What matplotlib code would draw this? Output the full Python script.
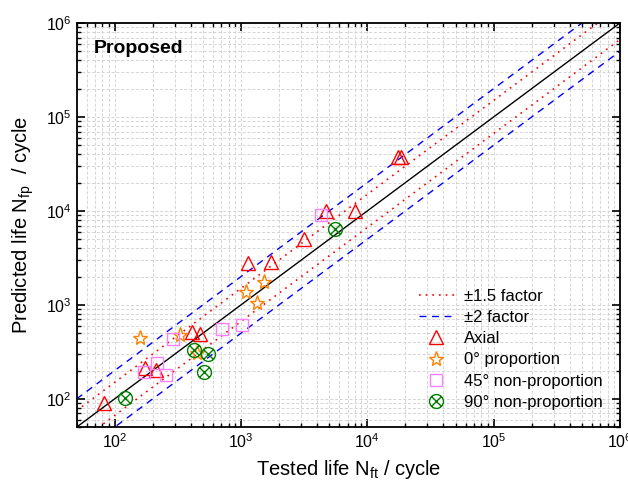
import numpy as np
import matplotlib
matplotlib.use('Agg')
import matplotlib.pyplot as plt
from matplotlib.path import Path
from matplotlib.ticker import LogLocator, NullFormatter

plt.rcParams['font.family'] = ['Liberation Sans', 'DejaVu Sans']
plt.rcParams['mathtext.fontset'] = 'custom'
plt.rcParams['mathtext.rm'] = 'Liberation Sans'
plt.rcParams['mathtext.it'] = 'Liberation Sans:italic'
plt.rcParams['mathtext.default'] = 'regular'

# tested life / predicted life (cycles)
axial_nt = [82, 175, 213, 410, 470, 1143, 1722, 3160, 4700, 8030, 17400, 18500]
axial_np = [90, 211, 203, 512, 492, 2800, 2870, 4980, 10000, 10000, 37200, 37800]

prop0_nt = [160, 332, 450, 1089, 1346, 1524]
prop0_np = [441, 480, 305, 1360, 1046, 1743]

np45_nt = [170, 217, 255, 289, 703, 1024, 4340]
np45_np = [195, 239, 179, 435, 556, 614, 9060]

np90_nt = [120, 424, 550, 508, 5570]
np90_np = [103, 332, 298, 191, 6370]

lims = [50, 1e6]

# circle with an x inside
circ = Path.unit_circle()
d = 0.707
xverts = [(-d, -d), (d, d), (-d, d), (d, -d)]
xcodes = [Path.MOVETO, Path.LINETO, Path.MOVETO, Path.LINETO]
circx = Path(np.concatenate([circ.vertices, xverts]),
             np.concatenate([circ.codes, xcodes]))

fig = plt.figure(figsize=(6.28, 4.91), dpi=100)
ax = fig.add_axes([0.122, 0.130, 0.865, 0.823])

line = np.array(lims)
ax.plot(line, line, color='k', lw=1.0, zorder=2)
ax.plot(line, line * 1.5, color='r', ls=(0, (1, 3)), lw=1.2, label=u'\u00b11.5 factor', zorder=2)
ax.plot(line, line / 1.5, color='r', ls=(0, (1, 3)), lw=1.2, zorder=2)
ax.plot(line, line * 2, color='b', ls=(0, (5, 4)), lw=1.0, label=u'\u00b12 factor', zorder=2)
ax.plot(line, line / 2, color='b', ls=(0, (5, 4)), lw=1.0, zorder=2)

ax.plot(axial_nt, axial_np, ls='none', marker='^', ms=10, mfc='none', mec='#FF0000',
        mew=1.0, label='Axial', zorder=3)
ax.plot(prop0_nt, prop0_np, ls='none', marker='*', ms=11, mfc='none', mec='#FF8000',
        mew=1.0, label=u'0\u00b0 proportion', zorder=3)
ax.plot(np45_nt, np45_np, ls='none', marker='s', ms=9, mfc='none', mec='#FF80FF',
        mew=1.0, label=u'45\u00b0 non-proportion', zorder=3)
ax.plot(np90_nt, np90_np, ls='none', marker=circx, ms=10, mfc='none', mec='#008000',
        mew=1.0, label=u'90\u00b0 non-proportion', zorder=3)

ax.set_xscale('log')
ax.set_yscale('log')
ax.set_xlim(lims)
ax.set_ylim(lims)
for a in (ax.xaxis, ax.yaxis):
    a.set_major_locator(LogLocator(base=10, numticks=10))
    a.set_minor_locator(LogLocator(base=10, subs=np.arange(2, 10), numticks=10))
    a.set_minor_formatter(NullFormatter())

ax.tick_params(which='both', direction='in', top=True, right=True, labelsize=11.5)
ax.tick_params(which='major', length=6, width=1.2)
ax.tick_params(which='minor', length=3, width=1.0)
for s in ax.spines.values():
    s.set_linewidth(1.3)

ax.grid(which='both', color='#d4d4d4', ls=(0, (3, 2)), lw=0.7)
ax.set_axisbelow(True)

ax.set_xlabel(r'Tested life N$_{\rm ft}$ / cycle', fontsize=14.5, labelpad=5)
ax.set_ylabel(r'Predicted life N$_{\rm fp}$  / cycle', fontsize=14.5, labelpad=7)

ax.text(0.032, 0.938, 'Proposed', transform=ax.transAxes, fontsize=14,
        fontweight='bold', va='center', ha='left')

ax.legend(loc='lower right', frameon=False, fontsize=12, handlelength=2.1,
          labelspacing=0.37, borderaxespad=0.65, handletextpad=0.6)

plt.savefig('out.png', dpi=100)
